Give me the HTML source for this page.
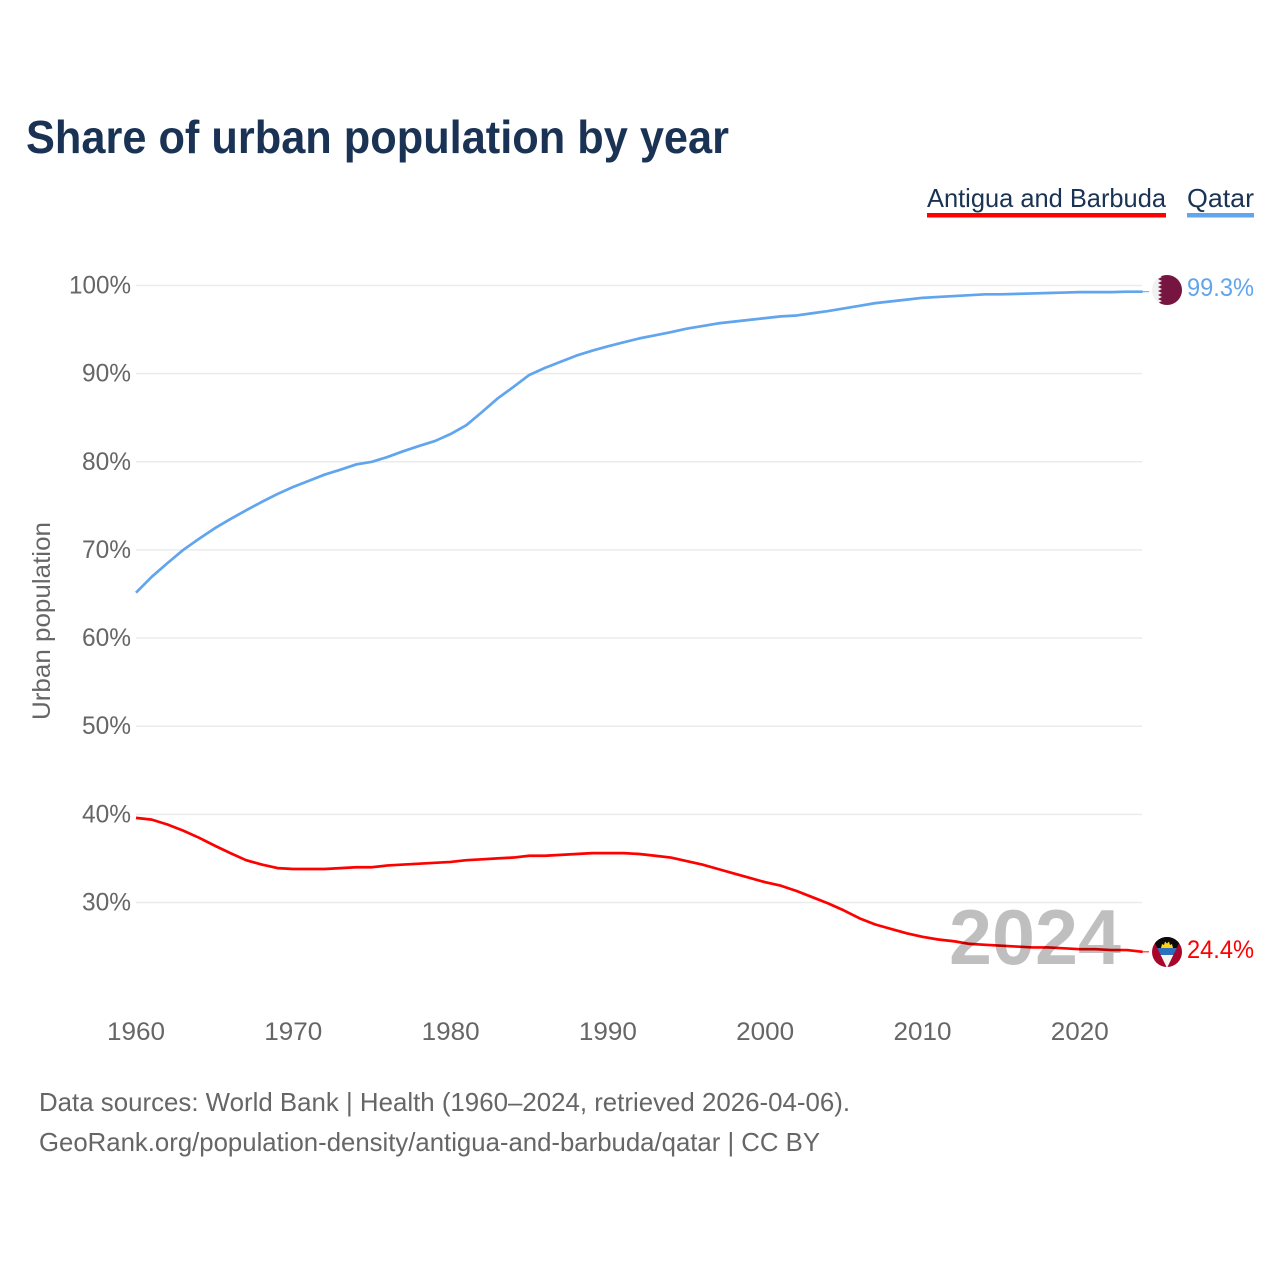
<!DOCTYPE html>
<html lang="en">
<head>
<meta charset="utf-8">
<title>Share of urban population by year</title>
<style>
html,body{margin:0;padding:0;background:#fff;}
svg{display:block;}
text{font-family:"Liberation Sans",sans-serif;}
</style>
</head>
<body>
<svg id="chart" xmlns="http://www.w3.org/2000/svg" width="1280" height="1280" viewBox="0 0 1280 1280">
  <rect width="1280" height="1280" fill="#fff"/>
  <text x="26" y="153" font-size="46" font-weight="700" fill="#1a3355" textLength="703" lengthAdjust="spacingAndGlyphs">Share of urban population by year</text>
  <g>
    <g>
      <text x="927" y="207" font-size="26" fill="#1a3355" textLength="239" lengthAdjust="spacingAndGlyphs">Antigua and Barbuda</text>
      <rect x="927" y="213" width="239" height="4.5" fill="#ff0000"/>
    </g>
    <g>
      <text x="1187" y="207" font-size="26" fill="#1a3355" textLength="67" lengthAdjust="spacingAndGlyphs">Qatar</text>
      <rect x="1187" y="213" width="67" height="4.5" fill="#60a5ee"/>
    </g>
  </g>
  <g id="grid"></g>
  <g id="yticks"></g>
  <g id="xticks"></g>
  <text transform="translate(50,621) rotate(-90)" text-anchor="middle" font-size="25" fill="#666" textLength="198" lengthAdjust="spacingAndGlyphs">Urban population</text>
  <g id="series"></g>
  <text id="year" x="949" y="964" font-size="78" font-weight="700" fill="#000" fill-opacity="0.25" textLength="172" lengthAdjust="spacingAndGlyphs">2024</text>
  <g id="ends"></g>
  <g>
    <clipPath id="clip-qa"><circle cx="1167" cy="290" r="15"/></clipPath>
    <g clip-path="url(#clip-qa)">
      <rect x="1150" y="273" width="34" height="34" fill="#f1f1f1"/>
      <polygon points="1158,273 1184,273 1184,307 1158,307 1162,305 1158,303 1162,301 1158,299 1162,297 1158,295 1162,293 1158,291 1162,289 1158,287 1162,285 1158,283 1162,281 1158,279 1162,277 1158,275" fill="#76153f"/>
    </g>
  </g>
  <g>
    <clipPath id="clip-ag"><circle cx="1167" cy="952" r="15"/></clipPath>
    <clipPath id="clip-ag-v"><polygon points="1150,933 1184,933 1167,968"/></clipPath>
    <g clip-path="url(#clip-ag)">
      <rect x="1150" y="935" width="34" height="34" fill="#a8052a"/>
      <g clip-path="url(#clip-ag-v)">
        <rect x="1150" y="933" width="34" height="15" fill="#0a0a0a"/>
        <rect x="1150" y="948" width="34" height="7" fill="#2a6fc0"/>
        <rect x="1150" y="955" width="34" height="14" fill="#f4f4f4"/>
      </g>
      <polygon points="1161,948 1162,944 1164,945 1165,941.5 1167,943.5 1169,941.5 1170,945 1172,944 1173,948" fill="#fcd116"/>
    </g>
  </g>
  <text x="1187" y="296" font-size="25" fill="#60a5ee" textLength="67" lengthAdjust="spacingAndGlyphs">99.3%</text>
  <text x="1187" y="958" font-size="25" fill="#ff0000" textLength="67" lengthAdjust="spacingAndGlyphs">24.4%</text>
  <text x="39" y="1111" font-size="26" fill="#666" textLength="811" lengthAdjust="spacingAndGlyphs">Data sources: World Bank | Health (1960–2024, retrieved 2026-04-06).</text>
  <text x="39" y="1151" font-size="26" fill="#666" textLength="781" lengthAdjust="spacingAndGlyphs">GeoRank.org/population-density/antigua-and-barbuda/qatar | CC BY</text>
</svg>
<script>
const startYear = 1960;
const qatarValues = [65.15,66.95,68.5,70.0,71.25,72.45,73.5,74.5,75.45,76.35,77.15,77.85,78.55,79.1,79.7,80.0,80.55,81.2,81.8,82.35,83.15,84.15,85.65,87.2,88.5,89.85,90.65,91.35,92.05,92.6,93.1,93.55,94.0,94.35,94.7,95.1,95.4,95.7,95.9,96.1,96.3,96.5,96.6,96.85,97.1,97.4,97.7,98.0,98.2,98.4,98.6,98.7,98.8,98.9,99.0,99.0,99.05,99.1,99.15,99.2,99.25,99.25,99.25,99.3,99.3];
const antiguaValues = [39.6,39.4,38.85,38.15,37.35,36.45,35.6,34.8,34.3,33.9,33.8,33.8,33.8,33.9,34.0,34.0,34.2,34.3,34.4,34.5,34.6,34.8,34.9,35.0,35.1,35.3,35.3,35.4,35.5,35.6,35.6,35.6,35.5,35.3,35.1,34.7,34.3,33.8,33.3,32.8,32.3,31.9,31.3,30.6,29.9,29.1,28.2,27.5,27.0,26.5,26.1,25.8,25.6,25.3,25.2,25.1,25.0,24.9,24.9,24.8,24.7,24.7,24.6,24.6,24.4];
const yTicks = [30,40,50,60,70,80,90,100];
const xTicks = [1960,1970,1980,1990,2000,2010,2020];

const NS = 'http://www.w3.org/2000/svg';
const xScale = function (year) { return 136 + (year - 1960) * 15.73; };
const yScale = function (value) { return 285.5 + (100 - value) * 8.814; };

function make(tag, attrs, parent, content) {
  const el = document.createElementNS(NS, tag);
  Object.keys(attrs).forEach(function (k) { el.setAttribute(k, attrs[k]); });
  if (content !== undefined) el.textContent = content;
  parent.appendChild(el);
  return el;
}

const gridGroup = document.getElementById('grid');
const yGroup = document.getElementById('yticks');
yTicks.forEach(function (t) {
  const line = make('line', {x1: 136, x2: 1142, y1: yScale(t), y2: yScale(t), stroke: '#ebebeb', 'stroke-width': 1.5}, gridGroup);
  
  
  const label = make('text', {x: 131, y: yScale(t) + 8, 'text-anchor': 'end', 'font-size': 25, fill: '#666', textLength: t === 100 ? 62 : 49, lengthAdjust: 'spacingAndGlyphs'}, yGroup, t + '%');
  
  
});

const xGroup = document.getElementById('xticks');
xTicks.forEach(function (t) {
  const label = make('text', {x: xScale(t), y: 1040, 'text-anchor': 'middle', 'font-size': 25, fill: '#666', textLength: 58, lengthAdjust: 'spacingAndGlyphs'}, xGroup, String(t));
  
  
});

function pathFor(values) {
  return values.map(function (v, i) {
    return (i ? 'L' : 'M') + xScale(startYear + i).toFixed(2) + ' ' + yScale(v).toFixed(2);
  }).join(' ');
}

const seriesGroup = document.getElementById('series');
const endGroup = document.getElementById('ends');

const qatarLine = make('path', {d: pathFor(qatarValues), fill: 'none', stroke: '#60a5ee', 'stroke-width': 2.7, 'stroke-linejoin': 'round'}, seriesGroup);



const antiguaLine = make('path', {d: pathFor(antiguaValues), fill: 'none', stroke: '#ff0000', 'stroke-width': 2.7, 'stroke-linejoin': 'round'}, seriesGroup);



const lastX = xScale(startYear + qatarValues.length - 1);
const qatarEndY = yScale(qatarValues[qatarValues.length - 1]);
const antiguaEndY = yScale(antiguaValues[antiguaValues.length - 1]);

const qatarEnd = make('line', {x1: lastX, x2: 1149, y1: qatarEndY, y2: qatarEndY, stroke: '#60a5ee', 'stroke-width': 1}, endGroup);



const antiguaEnd = make('line', {x1: lastX, x2: 1149, y1: antiguaEndY, y2: antiguaEndY, stroke: '#ff0000', 'stroke-width': 1}, endGroup);


</script>
</body>
</html>
